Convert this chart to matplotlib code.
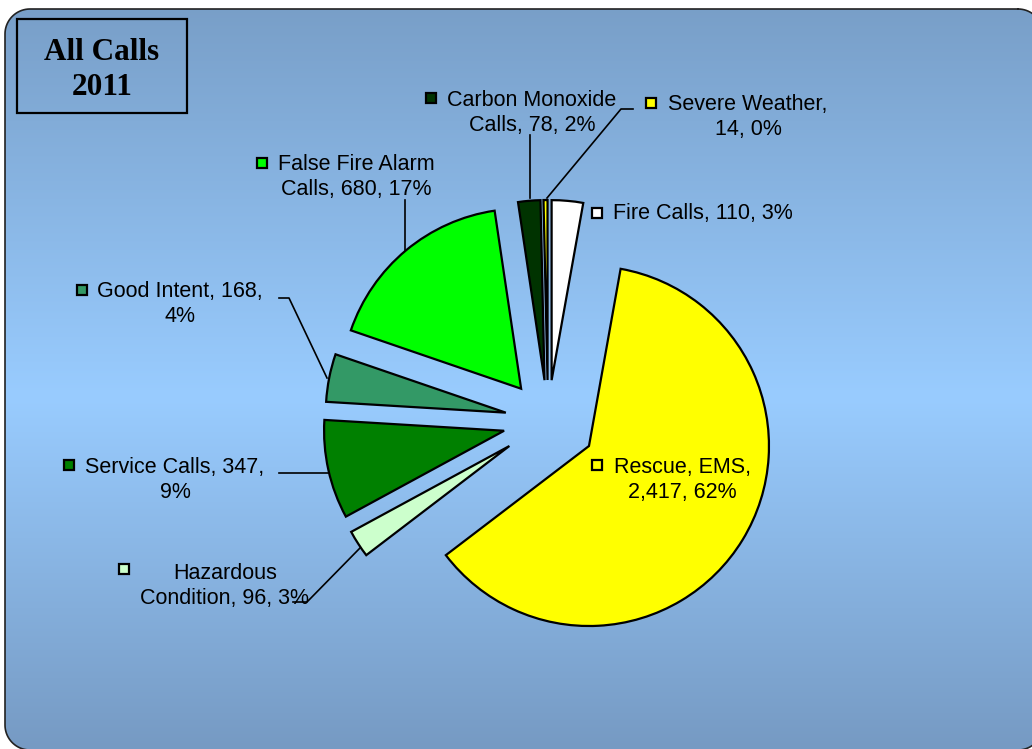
import matplotlib
matplotlib.use("Agg")
import matplotlib.pyplot as plt
import numpy as np
from matplotlib.patches import Rectangle

W, H = 1032, 749
CX, CY, R = 548, 421, 180  # pie centre / radius in pixels

# data
categories = ['Fire Calls', 'Rescue, EMS', 'Hazardous Condition', 'Service Calls',
              'Good Intent', 'False Fire Alarm Calls', 'Carbon Monoxide Calls', 'Severe Weather']
calls = [110, 2417, 96, 347, 168, 680, 78, 14]
label_texts = ['Fire Calls, 110, 3%',
               'Rescue, EMS,\n2,417, 62%',
               'Hazardous\nCondition, 96, 3%',
               'Service Calls, 347,\n9%',
               'Good Intent, 168,\n4%',
               'False Fire Alarm\nCalls, 680, 17%',
               'Carbon Monoxide\nCalls, 78, 2%',
               'Severe Weather,\n14, 0%']
colors = ['#FFFFFF', '#FFFF00', '#CCFFCC', '#008000', '#339966', '#00FF00', '#003300', '#FFFF00']
explode_px = [41, 48, 46, 45, 43, 42, 41, 41]

# label layout (pixels, y down): key square, text anchor, alignment, leader line
key_pos = [(597, 213), (597, 465), (124, 569), (69, 465), (82, 290), (262, 163), (431, 98), (651, 103)]
text_pos = [(613, 214), (682, 480), (225, 586), (175, 480), (180, 304), (356, 177), (532, 113), (748, 117)]
text_ha = ['left', 'center', 'center', 'center', 'center', 'center', 'center', 'center']
leaders = [None, None,
           [(293, 602), (307, 602), (360, 548)],
           [(279, 473), (328, 473)],
           [(279, 298), (289, 298), (327, 378)],
           [(405, 200), (405, 250)],
           [(530, 135), (530, 198)],
           [(633, 109), (621, 109), (547, 198)]]

fig = plt.figure(figsize=(W / 100, H / 100), dpi=100)
fig.patch.set_facecolor('white')

# background panel: vertical gradient, rounded corners via alpha mask (y down)
bg = fig.add_axes([0, 0, 1, 1], zorder=0)
x0, y0, x1, y1, rr = 5, 9, 1043, 750, 25
t = np.linspace(0, 1, H)
top, mid, bot = (120, 158, 199), (153, 204, 255), (118, 154, 195)
col = np.stack([np.interp(t, [0, 0.53, 1], [top[i], mid[i], bot[i]]) for i in range(3)], axis=-1) / 255
yy, xx = np.mgrid[0:H, 0:W] + 0.5
dx = np.clip(np.maximum(x0 + rr - xx, xx - (x1 - rr)), 0, None)
dy = np.clip(np.maximum(y0 + rr - yy, yy - (y1 - rr)), 0, None)
inside = (xx >= x0) & (xx <= x1) & (yy >= y0) & (yy <= y1) & (dx ** 2 + dy ** 2 <= rr ** 2)
rgba = np.ones((H, W, 4))
rgba[..., :3] = col[:, None, :]
rgba[..., 3] = inside.astype(float)
bg.imshow(rgba, extent=(0, W, H, 0), aspect='auto', interpolation='nearest', zorder=0)

# panel outline: straight sides joined by quarter arcs
a = np.linspace(0, np.pi / 2, 20)
corners = [(x1 - rr, y0 + rr, -np.pi / 2), (x1 - rr, y1 - rr, 0),
           (x0 + rr, y1 - rr, np.pi / 2), (x0 + rr, y0 + rr, np.pi)]
ox, oy = [], []
for cx, cy, a0 in corners:
    ox += list(cx + rr * np.cos(a0 + a))
    oy += list(cy + rr * np.sin(a0 + a))
ox.append(ox[0])
oy.append(oy[0])
bg.plot(ox, oy, color='#222222', lw=1.2, zorder=1)
bg.set_xlim(0, W)
bg.set_ylim(H, 0)
bg.axis('off')

# pie, in units of the radius
ax = fig.add_axes([0, 0, 1, 1], zorder=1)
ax.patch.set_alpha(0)
ax.pie(calls, colors=colors, explode=[e / R for e in explode_px], startangle=90,
       counterclock=False, radius=1, center=(0, 0),
       wedgeprops=dict(edgecolor='black', linewidth=1.6))
ax.set_xlim(-CX / R, (W - CX) / R)
ax.set_ylim(-(H - CY) / R, CY / R)
ax.axis('off')

# labels on top
ov = fig.add_axes([0, 0, 1, 1], zorder=2)
ov.patch.set_alpha(0)
ov.set_xlim(0, W)
ov.set_ylim(H, 0)
ov.axis('off')

for i in range(len(calls)):
    kx, ky = key_pos[i]
    ov.plot(kx, ky, marker='s', ms=7.5, mfc=colors[i], mec='black', mew=1.6)
    tx, ty = text_pos[i]
    ov.text(tx, ty, label_texts[i], ha=text_ha[i], va='center', fontsize=15.5,
            family='Liberation Sans', linespacing=1.3)
    if leaders[i]:
        xs, ys = zip(*leaders[i])
        ov.plot(xs, ys, color='black', lw=1.2)

# title box
ov.add_patch(Rectangle((17, 19), 170, 94, fc='none', ec='black', lw=1.6))
ov.text(102, 70, 'All Calls\n2011', ha='center', va='center', fontsize=22.5,
        family='Liberation Serif', fontweight='bold', linespacing=1.3)

fig.savefig('out.png', dpi=100)
